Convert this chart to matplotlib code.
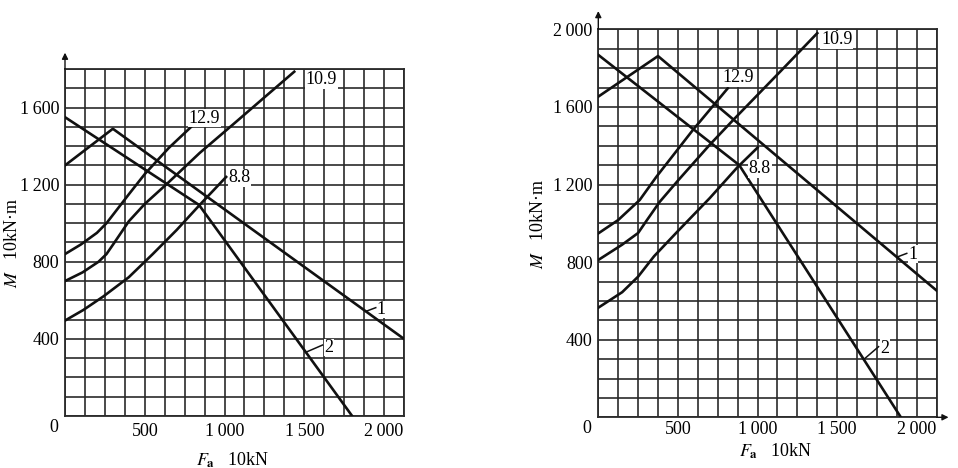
import matplotlib
matplotlib.use('Agg')
import matplotlib.pyplot as plt
import numpy as np

# 字体：图中是宋体/Times 一类的衬线字体
plt.rcParams['font.family'] = ['Liberation Serif', 'DejaVu Serif']
plt.rcParams['mathtext.fontset'] = 'stix'

THIN = '\u2009'
LINE_COLOR = '#111111'
GRID_COLOR = '#2a2a2a'
FONT_SIZE = 13

# 横轴 Fa (10kN)，两张图相同
x_max = 2125
x_step = 125
x_ticks = [500, 1000, 1500, 2000]
x_tick_labels = ['500', '1' + THIN + '000', '1' + THIN + '500', '2' + THIN + '000']

# 左图数据
left_y_max = 1800
left_y_ticks = [400, 800, 1200, 1600]
left_y_tick_labels = ['400', '800', '1' + THIN + '200', '1' + THIN + '600']
left_c1_x = [0, 300, 2125]
left_c1_y = [1300, 1490, 400]
left_c2_x = [0, 840, 1800]
left_c2_y = [1550, 1095, 0]
left_129_x = [0, 100, 200, 260, 330, 400, 500, 650, 800]
left_129_y = [840, 890, 950, 1000, 1075, 1150, 1255, 1390, 1507]
left_109_x = [0, 110, 210, 260, 310, 400, 500, 640, 845, 1050, 1260, 1437]
left_109_y = [700, 745, 800, 840, 900, 1010, 1100, 1205, 1365, 1510, 1660, 1786]
left_88_x = [0, 115, 240, 400, 550, 700, 850, 1010]
left_88_y = [495, 550, 620, 720, 840, 965, 1100, 1240]

# 右图数据
right_y_max = 2000
right_y_ticks = [400, 800, 1200, 1600, 2000]
right_y_tick_labels = ['400', '800', '1' + THIN + '200', '1' + THIN + '600', '2' + THIN + '000']
right_c1_x = [0, 375, 2125]
right_c1_y = [1653, 1862, 653]
right_c2_x = [0, 885, 1900]
right_c2_y = [1868, 1300, 0]
right_129_x = [0, 125, 260, 365, 594, 813]
right_129_y = [948, 1017, 1120, 1240, 1481, 1696]
right_109_x = [0, 150, 250, 300, 385, 500, 700, 850, 1140, 1375]
right_109_y = [811, 890, 950, 1010, 1110, 1220, 1405, 1535, 1780, 1980]
right_88_x = [0, 150, 250, 350, 500, 700, 875, 1000]
right_88_y = [565, 645, 725, 830, 960, 1130, 1290, 1390]


def draw_chart(ax, y_max, y_ticks, y_tick_labels, curves, grade_labels, leaders,
               xlabel_pos, ylabel_pos, x_arrow, x_pad):
    ax.set_xlim(0, x_max)
    ax.set_ylim(0, y_max)

    # 网格：横向每 125，纵向每 100
    ax.set_xticks(np.arange(0, x_max + 1, x_step), minor=True)
    ax.set_yticks(np.arange(0, y_max + 1, 100), minor=True)
    ax.set_xticks(x_ticks)
    ax.set_xticklabels(x_tick_labels)
    ax.set_yticks(y_ticks)
    ax.set_yticklabels(y_tick_labels)
    ax.tick_params(which='both', length=0, labelsize=FONT_SIZE)
    ax.tick_params(axis='x', pad=x_pad)
    ax.tick_params(axis='y', pad=4)
    ax.grid(which='both', color=GRID_COLOR, lw=1.2)
    for sp in ax.spines.values():
        sp.set_color(GRID_COLOR)
        sp.set_linewidth(1.3)

    for xs, ys in curves:
        ax.plot(xs, ys, color=LINE_COLOR, lw=1.9, solid_joinstyle='round', zorder=3)

    # 曲线标注 12.9 / 10.9 / 8.8
    for text, (tx, ty) in grade_labels:
        ax.text(tx, ty, text, fontsize=FONT_SIZE, ha='left', va='center', zorder=4,
                bbox=dict(facecolor='white', edgecolor='none', pad=0.5))

    # 曲线 1、2 的引线
    for text, (xs, ys), (x0, x1, y1), (tx, ty) in leaders:
        y0 = np.interp(x0, xs, ys)
        ax.plot([x0, x1], [y0, y1], color=LINE_COLOR, lw=1.1, zorder=3)
        ax.text(tx, ty, text, fontsize=FONT_SIZE, ha='left', va='center', zorder=4,
                bbox=dict(facecolor='white', edgecolor='none', pad=0.3))

    # 原点 0
    ax.annotate('0', xy=(0, 0), xytext=(-8, -8), textcoords='offset points',
                ha='center', va='center', fontsize=FONT_SIZE)

    # 坐标轴箭头
    ax.annotate('', xy=(0, 1.047), xytext=(0, 1.0), xycoords='axes fraction',
                arrowprops=dict(arrowstyle='-|>', color=LINE_COLOR, lw=1.0,
                                mutation_scale=9, shrinkA=0, shrinkB=0))
    if x_arrow:
        ax.annotate('', xy=(1.035, 0), xytext=(1.0, 0), xycoords='axes fraction',
                    arrowprops=dict(arrowstyle='-|>', color=LINE_COLOR, lw=1.0,
                                    mutation_scale=9, shrinkA=0, shrinkB=0))

    ax.text(xlabel_pos[0], xlabel_pos[1], r'$F_{\mathbf{a}}$   10kN', transform=ax.transAxes,
            ha='center', va='center', fontsize=FONT_SIZE)
    ax.text(ylabel_pos[0], ylabel_pos[1], r'$M$   10kN·m', transform=ax.transAxes,
            ha='center', va='center', rotation=90, fontsize=FONT_SIZE)


fig = plt.figure(figsize=(9.58, 4.68), dpi=100)

ax_left = fig.add_axes([65 / 958, 1 - 416 / 468, 339 / 958, 347 / 468])
draw_chart(
    ax_left, left_y_max, left_y_ticks, left_y_tick_labels,
    curves=[(left_c1_x, left_c1_y), (left_c2_x, left_c2_y), (left_129_x, left_129_y),
            (left_109_x, left_109_y), (left_88_x, left_88_y)],
    grade_labels=[('10.9', (1510, 1745)), ('12.9', (775, 1545)), ('8.8', (1025, 1236))],
    leaders=[('1', (left_c1_x, left_c1_y), (1886, 1948, 562), (1955, 552)),
             ('2', (left_c2_x, left_c2_y), (1510, 1614, 368), (1625, 356))],
    xlabel_pos=(0.493, -0.127), ylabel_pos=(-0.156, 0.5), x_arrow=False, x_pad=5)

ax_right = fig.add_axes([598.3 / 958, 1 - 417.3 / 468, 338.4 / 958, 388 / 468])
draw_chart(
    ax_right, right_y_max, right_y_ticks, right_y_tick_labels,
    curves=[(right_c1_x, right_c1_y), (right_c2_x, right_c2_y), (right_129_x, right_129_y),
            (right_109_x, right_109_y), (right_88_x, right_88_y)],
    grade_labels=[('10.9', (1398, 1945)), ('12.9', (780, 1750)), ('8.8', (945, 1283))],
    leaders=[('1', (right_c1_x, right_c1_y), (1875, 1937, 845), (1950, 840)),
             ('2', (right_c2_x, right_c2_y), (1667, 1760, 364), (1772, 356))],
    xlabel_pos=(0.523, -0.088), ylabel_pos=(-0.178, 0.5), x_arrow=True, x_pad=3)

fig.savefig('out.png', dpi=100, facecolor='white')
